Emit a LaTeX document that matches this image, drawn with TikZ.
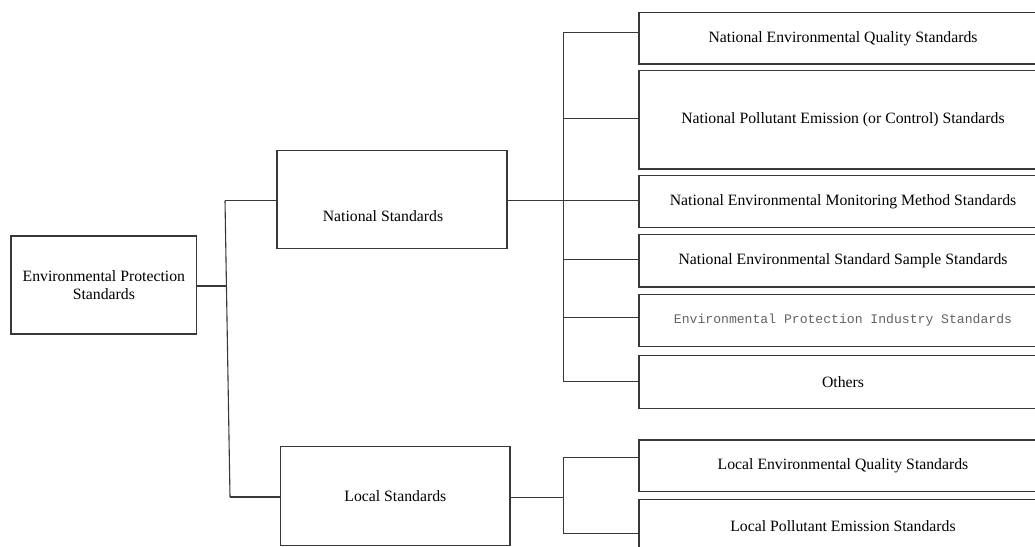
\documentclass[tikz,border=0pt]{standalone}
\usepackage{fontspec}
\setmainfont{Liberation Serif}
\newfontfamily\monofnt{Liberation Mono}
\begin{document}
\begin{tikzpicture}[x=1pt,y=-1pt,
  every node/.style={font=\fontsize{15.75}{18.3}\selectfont},
  box/.style={draw=black!78, line width=1.1pt, inner sep=0pt, align=center},
  rbox/.style={box, minimum width=408pt},
  conn/.style={draw=black!78, line width=1.1pt},
  graytext/.style={font=\monofnt\fontsize{13.1}{15}\selectfont, text=black!62}]
\useasboundingbox (0,0) rectangle (1035,546);
\clip (0,0) rectangle (1035,546);

% root
\node[box, minimum width=185.7pt, minimum height=98pt] (root) at (103.85,285) {Environmental Protection\\Standards};
% second level
\node[box, minimum width=230pt, minimum height=98.4pt,
  label={[xshift=-9pt,yshift=-17pt,font=\fontsize{15.75}{18.3}\selectfont]center:National Standards}] (nat) at (392,199.5) {};
\node[box, minimum width=229.3pt, minimum height=99pt] (loc) at (395.35,496.2) {Local Standards};

% third level (national)
\node[rbox, minimum height=51.3pt] (b1) at (843,38.35) {National Environmental Quality Standards};
\node[rbox, minimum height=98.3pt] (b2) at (843,119.85) {National Pollutant Emission (or Control) Standards};
\node[rbox, minimum height=51.6pt] (b3) at (843,201.5) {National Environmental Monitoring Method Standards};
\node[rbox, minimum height=52.7pt] (b4) at (843,260.65) {National Environmental Standard Sample Standards};
\node[rbox, minimum height=52.4pt] (b5) at (843,320.5) {\monofnt\fontsize{13.1}{15}\selectfont\color{black!62}Environmental Protection Industry Standards};
\node[rbox, minimum height=53.4pt] (b6) at (843,382) {Others};
% third level (local)
\node[rbox, minimum height=51.7pt] (l1) at (843,465.85) {Local Environmental Quality Standards};
\node[rbox, minimum height=53.4pt] (l2) at (843,526) {Local Pollutant Emission Standards};

% junctions
\coordinate (jt) at (225,200.5);
\coordinate (jb) at (230,497);
\coordinate (jm) at (226.45,286);
\coordinate (n1) at (563.3,32.7);
\coordinate (n2) at (563.3,118.3);
\coordinate (n3) at (563.3,200.7);
\coordinate (n4) at (563.3,259.3);
\coordinate (n5) at (563.3,317.3);
\coordinate (n6) at (563.3,381.7);
\coordinate (m0) at (563.3,497.3);
\coordinate (m1) at (563.3,457.7);
\coordinate (m2) at (563.3,533.3);

% connectors level 1
\draw[conn] (root.east |- jm) -- (jm);
\draw[conn] (jt) -- (jb);
\draw[conn] (jt) -- (nat.west |- jt);
\draw[conn] (jb) -- (loc.west |- jb);

% national bus
\draw[conn] (nat.east |- n3) -- (n3);
\draw[conn] (n1) -- (n6);
\foreach \i in {1,...,6} {\draw[conn] (n\i) -- (b\i.west |- n\i);}

% local bus
\draw[conn] (loc.east |- m0) -- (m0);
\draw[conn] (m1) -- (m2);
\draw[conn] (m1) -- (l1.west |- m1);
\draw[conn] (m2) -- (l2.west |- m2);
\end{tikzpicture}
\end{document}
